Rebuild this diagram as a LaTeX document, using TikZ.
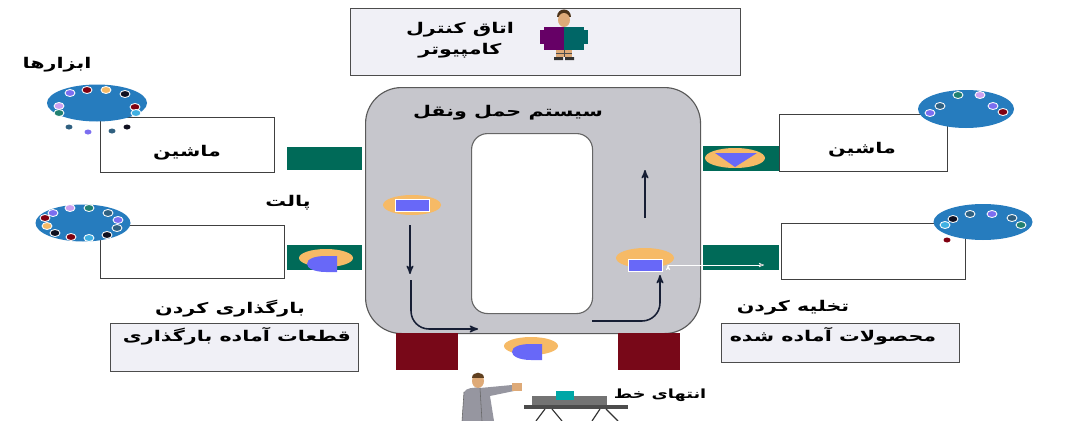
\documentclass[tikz,border=0pt]{standalone}
\usepackage{fontspec}
\newfontfamily\farsi[Script=Arabic]{DejaVu Sans}
\TeXXeTstate=1
\usepackage{tikz}
\usetikzlibrary{positioning}
\usetikzlibrary{arrows}
\usetikzlibrary{arrows.meta}
\usetikzlibrary{shapes,calc}

\definecolor{panelgray}{RGB}{198,198,204}
\definecolor{boxgray}{RGB}{240,240,246}
\definecolor{bargreen}{RGB}{0,106,88}
\definecolor{blockred}{RGB}{120,8,24}
\definecolor{plateblue}{RGB}{38,124,190}
\definecolor{palorange}{RGB}{246,186,102}
\definecolor{palblue}{RGB}{104,104,248}
\definecolor{arrownavy}{RGB}{22,30,52}
\definecolor{ringred}{RGB}{128,0,16}
\definecolor{ringblack}{RGB}{16,16,32}
\definecolor{ringpurple}{RGB}{124,110,240}
\definecolor{ringlilac}{RGB}{204,160,240}
\definecolor{ringteal}{RGB}{32,128,112}
\definecolor{ringsky}{RGB}{64,176,226}
\definecolor{ringslate}{RGB}{48,96,128}
\definecolor{skin}{RGB}{222,170,120}
\definecolor{suit}{RGB}{150,150,160}

\newcommand{\px}{0.025cm}
\newcommand{\fa}[1]{\scalebox{1.4}[1]{\farsi\bfseries\beginR #1\endR}}
% one coloured ring on a tool plate
\newcommand{\ring}[2]{\filldraw[fill=#2, draw=white, line width=0.6pt] #1 ellipse (5 and 3.5);}
% pallet with its round part
\newcommand{\palletD}[1]{%
  \begin{scope}[shift={#1}]
    \fill[palorange] (0,0) ellipse (27 and 9);
    \fill[palblue] (11,-2) -- (11,14) -- (0,14) .. controls (-12,14) and (-19,10) .. (-19,6)
      .. controls (-19,1) and (-12,-2) .. (0,-2) -- cycle;
  \end{scope}}
% pallet carrying a part
\newcommand{\palletR}[2]{%
  \begin{scope}[shift={#1}]
    \fill[palorange] (0,0) ellipse (29 and 10);
    \filldraw[fill=palblue, draw=white, line width=0.6pt] ($(-17,-6)+(0,#2)$) rectangle ($(17,6)+(0,#2)$);
  \end{scope}}

\tikzset{
  machine/.style={draw=black!75, thick, fill=white, anchor=north west, inner sep=0pt},
  panel/.style={draw=black!70, thick, fill=boxgray, anchor=north west, inner sep=0pt},
  bar/.style={fill=bargreen, anchor=north west, inner sep=0pt},
  block/.style={fill=blockred, anchor=north west, inner sep=0pt},
  plate/.style={ellipse, fill=plateblue, inner sep=0pt},
  fatext/.style={font=\fontsize{10.5}{15}\selectfont, inner sep=1pt},
}

\begin{document}
\begin{tikzpicture}[x=0.025cm, y=-0.025cm]
  \useasboundingbox[fill=white] (0,0) rectangle (1068,421);

  % control room
  \node[panel, minimum width=390*\px, minimum height=67*\px] (ctrl) at (350,8) {};
  \node[fatext, align=center] (ctrltxt) at (460,40) {\fa{اتاق کنترل}\\\fa{کامپیوتر}};
  \begin{scope}[shift={(564,0)}]
    \fill[black!60!brown] (-7,17) .. controls (-7,7) and (7,7) .. (7,17) -- cycle;
    \fill[skin] (0,20) ellipse (6 and 7);
    \fill[violet!80!black] (-20,27) rectangle (0,50);
    \fill[teal!80!black] (0,27) rectangle (20,50);
    \fill[violet!80!black] (-24,30) rectangle (-18,44);
    \fill[teal!80!black] (18,30) rectangle (24,44);
    \fill[skin] (-8,50) rectangle (8,57);
    \draw[black!70] (-8,53) -- (8,53) (0,50) -- (0,57);
    \fill[black!80] (-10,57) rectangle (-1,60) (1,57) rectangle (10,60);
  \end{scope}

  % conveyor loop
  \node[draw=black!65, thick, fill=panelgray, rounded corners=0.9cm, anchor=north west,
        minimum width=335*\px, minimum height=246*\px] (conveyor) at (365,87) {};
  \node[draw=black!60, thick, fill=white, rounded corners=0.4cm, anchor=north west,
        minimum width=121*\px, minimum height=180*\px] (loop) at (471,133) {};
  \node[fatext] (convtxt) at (508,113) {\fa{سیستم حمل ونقل}};

  % left side: tools and machines
  \node[fatext] (tools) at (57,65) {\fa{ابزارها}};
  \node[machine, minimum width=174*\px, minimum height=55*\px] (mach1) at (100,117) {};
  \node[plate, minimum width=100*\px, minimum height=37*\px] (plate1) at (97,103) {};
  \ring{(70,93)}{ringpurple}   \ring{(87,90)}{ringred}    \ring{(106,90)}{palorange}
  \ring{(125,94)}{ringblack}   \ring{(135,107)}{ringred}  \ring{(136,113)}{ringsky}
  \ring{(59,106)}{ringlilac}   \ring{(59,113)}{ringteal}
  \fill[ringslate] (69,127) ellipse (3.5 and 2.5);
  \fill[ringpurple] (88,132) ellipse (3.5 and 2.5);
  \fill[ringslate] (112,131) ellipse (3.5 and 2.5);
  \fill[ringblack] (127,127) ellipse (3.5 and 2.5);
  \node[fatext] (mach1txt) at (187,153) {\fa{ماشین}};
  \node[bar, minimum width=75*\px, minimum height=23*\px] (bar1) at (287,147) {};

  \node[fatext] (pallet) at (288,203) {\fa{پالت}};
  \node[machine, minimum width=184*\px, minimum height=53*\px] (mach2) at (100,225) {};
  \node[plate, minimum width=95*\px, minimum height=37*\px] (plate2) at (83,223) {};
  \ring{(70,208)}{ringlilac}   \ring{(89,208)}{ringteal}   \ring{(108,213)}{ringslate}
  \ring{(118,220)}{ringpurple} \ring{(117,228)}{ringslate} \ring{(107,235)}{ringblack}
  \ring{(89,238)}{ringsky}     \ring{(71,237)}{ringred}    \ring{(55,233)}{ringblack}
  \ring{(47,226)}{palorange}   \ring{(45,218)}{ringred}    \ring{(53,213)}{ringpurple}
  \node[bar, minimum width=75*\px, minimum height=25*\px] (bar2) at (287,245) {};
  \palletD{(326,258)}

  \node[fatext] (loadtxt) at (230,309) {\fa{بارگذاری کردن}};
  \node[panel, minimum width=248*\px, minimum height=48*\px] (loadbox) at (110,323) {};
  \node[fatext] (loadparts) at (237,336) {\fa{قطعات آماده بارگذاری}};

  % right side: machines and unloading
  \node[machine, minimum width=168*\px, minimum height=57*\px] (mach3) at (779,114) {};
  \node[plate, minimum width=96*\px, minimum height=38*\px] (plate3) at (966,109) {};
  \ring{(958,95)}{ringteal}    \ring{(980,95)}{ringlilac}  \ring{(940,106)}{ringslate}
  \ring{(993,106)}{ringpurple} \ring{(1003,112)}{ringred}  \ring{(930,113)}{ringpurple}
  \node[fatext] (mach3txt) at (862,150) {\fa{ماشین}};
  \node[bar, minimum width=76*\px, minimum height=25*\px] (bar3) at (703,146) {};
  \fill[palorange] (735,158) ellipse (30 and 10);
  \fill[palblue] (715,153) -- (757,153) -- (735,167) -- cycle;

  \node[machine, minimum width=184*\px, minimum height=56*\px] (mach4) at (781,223) {};
  \node[plate, minimum width=99*\px, minimum height=36*\px] (plate4) at (983,222) {};
  \ring{(953,219)}{ringblack}  \ring{(970,214)}{ringslate} \ring{(992,214)}{ringpurple}
  \ring{(1012,218)}{ringslate} \ring{(1021,225)}{ringteal} \ring{(945,225)}{ringsky}
  \fill[ringred] (947,240) ellipse (3.5 and 2.5);
  \node[bar, minimum width=76*\px, minimum height=25*\px] (bar4) at (703,245) {};

  \node[fatext] (unloadtxt) at (793,308) {\fa{تخلیه کردن}};
  \node[panel, minimum width=238*\px, minimum height=39*\px] (unloadbox) at (721,323) {};
  \node[fatext] (products) at (833,336) {\fa{محصولات آماده شده}};

  % bottom stations
  \node[block, minimum width=62*\px, minimum height=37*\px] (block1) at (396,333) {};
  \node[block, minimum width=62*\px, minimum height=37*\px] (block2) at (618,333) {};
  \palletD{(531,346)}

  % pallets moving on the loop
  \palletR{(412,205)}{0}
  \palletR{(645,258)}{7}

  \coordinate (downA) at (410,225);
  \coordinate (downB) at (410,274);
  \coordinate (turnA) at (411,280);
  \coordinate (turnB) at (478,329);
  \coordinate (riseA) at (592,321);
  \coordinate (riseB) at (660,275);
  \coordinate (upA) at (645,218);
  \coordinate (upB) at (645,170);
  \coordinate (outA) at (668,265);
  \coordinate (outB) at (764,265);

  \begin{scope}[>=stealth', line width=1.1pt, draw=arrownavy]
    \path [->] (downA) edge (downB);
    \path [->] (upA) edge (upB);
    \draw [->, rounded corners=0.45cm] (turnA) |- (turnB);
    \draw [->, rounded corners=0.45cm] (riseA) -| (riseB);
  \end{scope}
  \path [->, >=stealth', draw=white, thin] (outA) edge (outB);

  % end of line
  \node[fatext, font=\fontsize{9}{12}\selectfont] (lineend) at (660,395) {\fa{انتهای خط}};
  \begin{scope}[shift={(480,0)}]
    \fill[skin] (-2,381) ellipse (6 and 7);
    \fill[black!50!brown] (-8,378) .. controls (-8,371) and (4,371) .. (4,378) -- cycle;
    \fill[suit] (-18,421) -- (-16,392) .. controls (-14,388) and (-6,387) .. (0,388)
      -- (32,385) -- (34,391) -- (10,396) -- (14,421) -- cycle;
    \draw[black!60] (-16,392) -- (-18,421) (0,388) -- (2,421);
    \fill[skin] (32,383) rectangle (42,391);
  \end{scope}
  \fill[black!70] (524,405) rectangle (628,409);
  \fill[black!55] (532,396) rectangle (607,405);
  \fill[teal!70!cyan] (556,391) rectangle (574,400);
  \draw[black!80, thick] (545,409) -- (536,421) (552,409) -- (562,421)
    (600,409) -- (592,421) (606,409) -- (618,421);
\end{tikzpicture}
\end{document}
